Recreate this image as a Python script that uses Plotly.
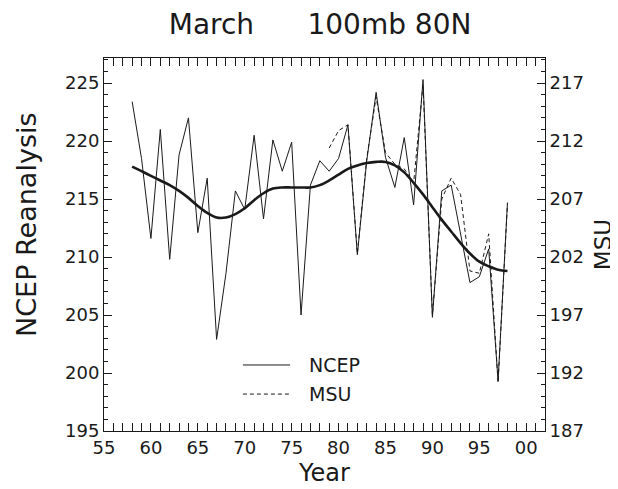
import plotly.graph_objects as go

years = list(range(1958, 1999))
ncep = [223.4, 218.5, 211.6, 221.0, 209.8, 218.8, 222.0, 212.1, 216.8, 202.9,
        208.6, 215.7, 214.1, 220.5, 213.3, 220.1, 217.4, 219.9, 205.0, 216.2,
        218.3, 217.4, 218.5, 221.4, 210.2, 218.3, 224.2, 218.6, 216.0, 220.3,
        214.5, 225.3, 204.8, 215.7, 216.2, 212.0, 207.8, 208.3, 210.7, 199.3,
        214.7]
smooth = [217.8, 217.4, 217.0, 216.6, 216.2, 215.7, 215.1, 214.4, 213.8, 213.4,
          213.4, 213.7, 214.2, 214.9, 215.5, 215.9, 216.0, 216.0, 216.0, 216.0,
          216.2, 216.6, 217.1, 217.6, 217.9, 218.1, 218.2, 218.2, 217.9, 217.3,
          216.4, 215.4, 214.3, 213.2, 212.2, 211.2, 210.3, 209.6, 209.2, 208.9,
          208.8]
msu_years = list(range(1979, 1999))
msu = [211.4, 212.9, 213.4, 202.3, 210.5, 215.8, 211.0, 210.0, 209.6, 208.4,
       216.9, 197.0, 207.0, 208.8, 207.4, 200.8, 200.6, 204.0, 191.2, 206.6]

x_tickvals = list(range(1955, 2001, 5))
x_ticktext = ["55", "60", "65", "70", "75", "80", "85", "90", "95", "00"]
x_minor = list(range(1955, 2003))
yl_ticks = [195, 200, 205, 210, 215, 220, 225]
yl_minor = list(range(195, 228))
yr_ticks = [187, 192, 197, 202, 207, 212, 217]
yr_minor = list(range(187, 220))

FONT = "DejaVu Sans"
INK = "#1a1a1a"

fig = go.Figure()
fig.add_trace(go.Scatter(x=years, y=ncep, mode="lines", name="NCEP",
                         line=dict(color=INK, width=1), showlegend=False))
fig.add_trace(go.Scatter(x=years, y=smooth, mode="lines", name="smooth",
                         line=dict(color=INK, width=2.6, shape="spline"),
                         showlegend=False))
fig.add_trace(go.Scatter(x=msu_years, y=msu, mode="lines", name="MSU",
                         yaxis="y2",
                         line=dict(color=INK, width=1, dash="4px,3px"),
                         showlegend=False))

# legend drawn as layout decorations
fig.add_shape(type="line", xref="paper", yref="paper", x0=0.315, x1=0.422,
              y0=0.177, y1=0.177, line=dict(color=INK, width=1))
fig.add_shape(type="line", xref="paper", yref="paper", x0=0.315, x1=0.422,
              y0=0.099, y1=0.099, line=dict(color=INK, width=1, dash="4px,3px"))
fig.add_annotation(xref="paper", yref="paper", x=0.46, y=0.177, text="NCEP",
                   showarrow=False, xanchor="left", yanchor="middle",
                   font=dict(family=FONT, size=19, color=INK))
fig.add_annotation(xref="paper", yref="paper", x=0.46, y=0.099, text="MSU",
                   showarrow=False, xanchor="left", yanchor="middle",
                   font=dict(family=FONT, size=19, color=INK))

# left axis title (placed slightly above centre as in the original)
fig.add_annotation(xref="paper", yref="paper", x=-0.176, y=0.5535,
                   text="NCEP Reanalysis", textangle=-90, showarrow=False,
                   xanchor="center", yanchor="middle",
                   font=dict(family=FONT, size=27, color=INK))

axis_common = dict(showgrid=False, zeroline=False, linecolor=INK, linewidth=1,
                   ticks="inside", tickcolor=INK, ticklen=8, tickwidth=1,
                   automargin=False,
                   tickfont=dict(family=FONT, size=18, color=INK))

def minor(vals):
    return dict(tickmode="array", tickvals=vals, ticks="inside", ticklen=4,
                tickcolor=INK, tickwidth=1, showgrid=False)

fig.update_layout(
    width=618, height=489,
    margin=dict(l=96, r=81, t=50, b=66, autoexpand=False),
    paper_bgcolor="white", plot_bgcolor="white",
    title=dict(text="March\u00a0\u00a0\u00a0\u00a0\u00a0\u00a0100mb 80N",
               x=0.505, xanchor="center", y=0.967, yanchor="middle",
               automargin=False,
               font=dict(family=FONT, size=28, color=INK)),
    xaxis=dict(range=[1955, 2002], tickmode="array", tickvals=x_tickvals,
               ticktext=x_ticktext, mirror="allticks", showline=True,
               minor=minor(x_minor),
               title=dict(text="Year", font=dict(family=FONT, size=24, color=INK),
                          standoff=7),
               **axis_common),
    yaxis=dict(range=[195, 227.16], tickmode="array", tickvals=yl_ticks,
               showline=True, mirror=True, minor=minor(yl_minor),
               **axis_common),
    yaxis2=dict(range=[187, 219.16], tickmode="array", tickvals=yr_ticks,
                overlaying="y", side="right", showline=True,
                minor=minor(yr_minor),
                title=dict(text="MSU", font=dict(family=FONT, size=23, color=INK),
                           standoff=11),
                **axis_common),
)

fig.write_html("out.html")
